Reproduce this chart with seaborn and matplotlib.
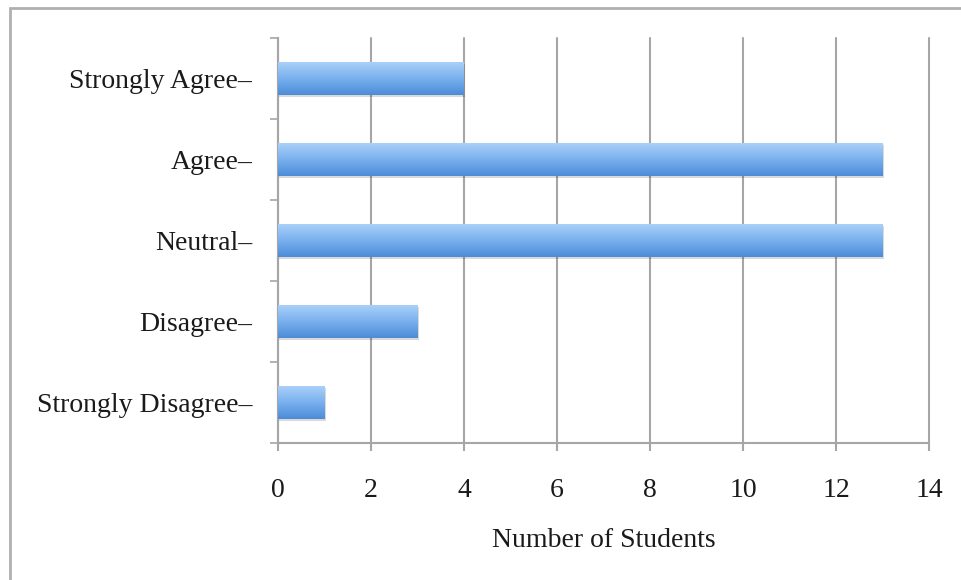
import numpy as np
import pandas as pd
import matplotlib
matplotlib.use("Agg")
import matplotlib.pyplot as plt
import matplotlib.patheffects as pe
from matplotlib.colors import LinearSegmentedColormap
from matplotlib.patches import Rectangle
import seaborn as sns

# Данные
responses = ["Strongly Agree", "Agree", "Neutral", "Disagree", "Strongly Disagree"]
students = [4, 13, 13, 3, 1]
x_ticks = [0, 2, 4, 6, 8, 10, 12, 14]

df = pd.DataFrame({"Response": responses, "Students": students})

sns.set_style("white")
plt.rcParams["font.family"] = ["Liberation Serif", "DejaVu Serif"]

grid_col = "#a6a6a6"
text_col = "#1a1a1a"

fig = plt.figure(figsize=(9.62, 5.80), dpi=100)
ax = fig.add_axes([278 / 962, 1 - 443 / 580, (929 - 278) / 962, (443 - 38) / 580])

sns.barplot(data=df, y="Response", x="Students", orient="h", color="#6aa3e6",
            width=0.4, ax=ax, zorder=3)

# градиент на столбцах
cmap = LinearSegmentedColormap.from_list("bar", ["#a9d0f8", "#78b0ee", "#4d8cd8"])
grad = np.linspace(0, 1, 64).reshape(-1, 1)
for p in ax.patches:
    p.set_edgecolor("none")
    p.set_path_effects([pe.SimplePatchShadow(offset=(1, -1.5), shadow_rgbFace="#000000", alpha=0.15),
                        pe.Normal()])
    x0, y0 = p.get_x(), p.get_y()
    w, h = p.get_width(), p.get_height()
    im = ax.imshow(grad, cmap=cmap, aspect="auto", extent=(x0, x0 + w, y0 + h, y0),
                   zorder=4, interpolation="bicubic")
    im.set_clip_path(p)

ax.set_xlim(0, 14)
ax.set_ylim(len(responses) - 0.5, -0.5)
ax.set_xticks(x_ticks)
ax.set_xticklabels([str(t) for t in x_ticks])
ax.set_yticks(range(len(responses)))
ax.set_yticklabels([r + "–" for r in responses])
ax.set_yticks(np.arange(-0.5, len(responses), 1), minor=True)

ax.grid(axis="x", color=grid_col, linewidth=1.5, zorder=0)
ax.grid(axis="y", visible=False)
ax.set_axisbelow(True)
for gl in ax.get_xgridlines():
    gl.set_clip_on(False)

for s in ["top", "right"]:
    ax.spines[s].set_visible(False)
for s in ["left", "bottom"]:
    ax.spines[s].set_color(grid_col)
    ax.spines[s].set_linewidth(1.5)

ax.tick_params(axis="y", which="major", length=0, pad=18.5, labelsize=20, labelcolor=text_col)
ax.tick_params(axis="y", which="minor", length=6, width=1.2, color=grid_col, direction="out", left=True)
ax.tick_params(axis="x", which="major", length=6, width=1.5, color=grid_col, direction="out",
               bottom=True, pad=19, labelsize=20, labelcolor=text_col)

ax.set_ylabel("")
ax.set_xlabel("Number of Students", fontsize=20, color=text_col, labelpad=18)

# рамка вокруг рисунка (правый и нижний край за пределами)
fig.patches.append(Rectangle((10 / 962, -0.05), 1.0, 1 - 8 / 580 + 0.05, transform=fig.transFigure,
                             fill=False, edgecolor="#b0b0b0", linewidth=2))

fig.savefig("out.png", dpi=100)
